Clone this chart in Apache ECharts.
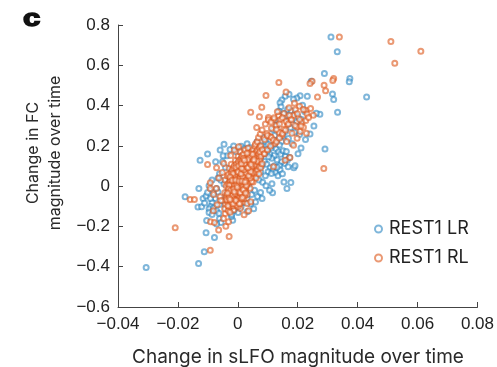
<!DOCTYPE html>
<html>
<head>
<meta charset="utf-8">
<script src="https://cdn.jsdelivr.net/npm/echarts@6/dist/echarts.min.js"></script>
<style>html,body{margin:0;padding:0;background:#fff;}#c{width:497px;height:367px;}</style>
</head>
<body>
<div id="c"></div>
<script>
var xTicks = [-0.04, -0.02, 0, 0.02, 0.04, 0.06, 0.08];
var yTicks = [-0.6, -0.4, -0.2, 0, 0.2, 0.4, 0.6, 0.8];
var seriesNames = ['REST1 LR', 'REST1 RL'];

var lrPoints = [
[0.0311,0.741],[0.0332,0.667],[0.0289,0.559],[0.0374,0.534],[0.0372,0.518],[0.0430,0.442],[0.0316,0.457],[0.0320,0.430],[0.0333,0.367],[0.0291,0.185],[0.0274,0.357],[0.0262,0.362],
[0.0245,0.521],[0.0232,0.446],[0.0208,0.449],[0.0197,0.438],[0.0216,0.402],[0.0223,0.371],[0.0186,0.432],[0.0171,0.456],[0.0158,0.446],[0.0147,0.428],[0.0141,0.414],[0.0144,0.394],[0.0166,0.381],[0.0179,0.374],[0.0191,0.362],[0.0201,0.344],[0.0213,0.331],[0.0196,0.318],[0.0183,0.309],[0.0171,0.331],[0.0161,0.352],[0.0152,0.361],[0.0137,0.372],[0.0176,0.291],[0.0189,0.268],[0.0206,0.256],[0.0159,0.271],[0.0151,0.249],[0.0169,0.236],[0.0181,0.211],[0.0146,0.222],[0.0131,0.302],[0.0124,0.329],[0.0117,0.281],[0.0123,0.252],
[0.0086,0.241],[0.0093,0.222],[0.0101,0.208],[0.0111,0.191],[0.0119,0.203],[0.0128,0.186],[0.0136,0.171],[0.0143,0.158],[0.0151,0.176],[0.0159,0.149],[0.0166,0.131],[0.0173,0.142],[0.0156,0.112],[0.0146,0.121],[0.0139,0.101],[0.0131,0.131],[0.0121,0.152],[0.0113,0.139],[0.0106,0.161],[0.0098,0.172],[0.0091,0.181],[0.0083,0.158],[0.0076,0.141],[0.0069,0.121],[0.0081,0.101],[0.0089,0.122],[0.0097,0.109],[0.0108,0.091],[0.0117,0.079],[0.0126,0.068],[0.0134,0.051],[0.0154,0.021],[0.0164,-0.012],[0.0177,0.018],[0.0116,-0.033],[0.0141,0.082],[0.0149,0.061],[0.0122,0.101],[0.0101,0.071],[0.0092,0.052],[0.0076,0.071],[0.0066,0.089],[0.0061,0.052],[0.0071,0.031],[0.0083,0.019],[0.0094,0.002],[0.0106,-0.021],[0.0114,0.012],[0.0103,0.146],[0.0112,0.063],[0.0131,0.094],[0.0168,0.096],[0.0187,0.091],[0.0162,0.172],[0.0139,0.204],[0.0127,0.226],
[-0.0101,0.159],[-0.0059,0.179],[-0.0046,0.208],[-0.0036,0.151],[-0.0026,0.182],[-0.0014,0.199],[-0.0006,0.171],[0.0011,0.198],[0.0021,0.186],[0.0031,0.211],[0.0041,0.191],[0.0052,0.168],[-0.0051,0.121],[-0.0041,0.092],[-0.0061,0.061],[-0.0066,0.041],[-0.0056,0.029],[-0.0046,0.011],[-0.0071,-0.012],[-0.0081,-0.031],[-0.0076,-0.061],[-0.0086,-0.081],[-0.0091,-0.101],[-0.0096,-0.112],[-0.0081,-0.108],[-0.0071,-0.122],[-0.0061,-0.091],[-0.0051,-0.071],[-0.0041,-0.052],[-0.0031,-0.082],[-0.0021,-0.101],[-0.0011,-0.121],[0.0001,-0.131],[0.0011,-0.102],[0.0021,-0.081],[0.0031,-0.061],[0.0031,-0.127],[0.0046,-0.041],[0.0056,-0.021],[0.0066,-0.051],[0.0076,-0.031],[-0.0017,-0.169],[-0.0021,-0.151],[-0.0061,-0.161],[-0.0056,-0.181],[-0.0071,-0.188],[-0.0106,-0.231],[-0.0078,-0.255],[-0.0112,-0.326],[-0.0131,-0.384],[-0.0306,-0.404],[-0.0176,-0.053],[-0.0130,-0.012],[-0.0133,-0.103],[-0.0121,-0.102],[-0.0116,-0.061],[-0.0106,-0.049],[-0.0101,-0.031],[-0.0096,0.002],[-0.0091,-0.061],[-0.0126,0.128],[-0.0096,-0.131],[-0.0104,-0.171],[-0.0086,-0.141],[-0.0111,-0.084],[-0.0026,-0.011],[-0.0016,0.021],[-0.0004,0.049],[0.0006,0.081],[0.0016,0.109],[0.0026,0.131],[0.0036,0.119],[-0.0031,0.041],[-0.0021,0.071],[-0.0009,0.101],[0.0001,0.129],[0.0012,0.152],[0.0021,0.002],[0.0032,0.031],[0.0041,0.059],[0.0051,0.091],[0.0061,0.149],[-0.0036,-0.029],[0.0016,-0.041],[0.0026,-0.019],[0.0059,-0.079],[0.0081,-0.061],[0.0046,0.111],[0.0036,0.081],[-0.0011,-0.049],[0.0001,-0.021],[0.0013,0.041],[0.0023,0.061],[-0.0041,-0.109],[0.0043,-0.089],[0.0191,0.101],[0.0201,0.161],[0.0211,0.189],[0.0226,0.231],[0.0241,0.259],[0.0254,0.298],[-0.0066,-0.029],[-0.0049,0.151],[-0.0086,0.031],[-0.0074,0.121],[0.0071,0.182],[0.0079,0.201],[0.0064,0.221],[-0.0021,-0.141],[0.0053,-0.112],[0.0007,-0.072],[-0.0063,-0.134],[0.0008,0.011],[0.0037,0.006],[-0.0012,0.071]
];

var rlPoints = [
[0.0339,0.741],[0.0511,0.718],[0.0611,0.670],[0.0524,0.610],[0.0320,0.534],[0.0317,0.524],[0.0288,0.501],[0.0293,0.473],[0.0248,0.521],[0.0241,0.509],[0.0266,0.443],[0.0287,0.088],[0.0174,0.142],[0.0137,0.514],[0.0094,0.450],[0.0043,0.367],[-0.0209,-0.207],[-0.0092,-0.318],[-0.0029,-0.250],[-0.0101,0.108],[-0.0159,-0.066],[-0.0145,-0.066],[-0.0092,0.017],[-0.0040,-0.199],[0.0080,0.392],[0.0161,0.467],
[0.0206,0.397],[0.0228,0.377],[0.0243,0.385],[0.0252,0.352],[0.0231,0.358],[0.0189,0.411],[0.0154,0.361],[0.0136,0.349],[0.0119,0.331],[0.0102,0.341],[0.0072,0.344],[0.0063,0.291],[0.0097,0.261],[0.0108,0.246],[0.0124,0.212],[0.0147,0.253],[0.0163,0.222],[0.0186,0.203],[0.0208,0.271],[0.0229,0.262],[0.0158,0.129],[0.0119,0.096],[0.0086,0.162],[0.0177,0.336],[0.0186,0.351],[0.0197,0.295],[0.0214,0.318],[0.0171,0.389],[0.0143,0.331],[0.0128,0.301],[0.0112,0.288],[0.0166,0.307],[0.0153,0.282],[0.0138,0.268],[0.0181,0.262],[0.0198,0.238],[0.0219,0.292],[0.0206,0.331],[0.0227,0.326],[0.0236,0.341],
[-0.0092,-0.012],[-0.0059,-0.053],[-0.0057,-0.071],[-0.0042,-0.136],[-0.0014,-0.119],[0.0008,-0.111],[0.0031,-0.086],[0.0043,-0.078],[0.0036,-0.122],[-0.0091,-0.177],[-0.0078,-0.181],[-0.0064,-0.218],[-0.0031,-0.177],[-0.0081,-0.041],[-0.0069,-0.092],[-0.0072,-0.012],[-0.0063,0.041],[-0.0052,0.068],[-0.0047,0.112],[-0.0071,0.091],[-0.0012,0.179],[0.0003,0.196],[-0.0024,0.152],[-0.0082,-0.122],[-0.0048,-0.161],[0.0021,-0.142],
[-0.0041,-0.091],[-0.0038,-0.058],[-0.0043,-0.031],[-0.0039,0.002],[-0.0042,0.031],[-0.0044,-0.112],[-0.0034,-0.079],[-0.0036,-0.041],[-0.0033,0.011],[-0.0035,0.051],[-0.0032,-0.121],
[-0.0029,-0.101],[-0.0031,-0.069],[-0.0028,-0.021],[-0.0027,0.022],[-0.0031,0.059],[-0.0029,0.089],[-0.0024,-0.089],[-0.0026,-0.051],[-0.0023,-0.011],[-0.0025,0.031],[-0.0022,0.069],[-0.0026,-0.129],
[-0.0019,-0.081],[-0.0021,-0.061],[-0.0018,-0.029],[-0.0021,0.002],[-0.0017,0.041],[-0.0019,0.081],[-0.0022,0.109],[-0.0014,-0.099],[-0.0016,-0.071],[-0.0013,-0.041],[-0.0015,-0.009],[-0.0012,0.019],[-0.0016,0.051],[-0.0014,0.091],
[-0.0011,-0.089],[-0.0009,-0.061],[-0.0011,-0.019],[-0.0008,0.011],[-0.0011,0.029],[-0.0009,0.061],[-0.0012,0.101],[-0.0008,0.129],[-0.0004,-0.079],[-0.0006,-0.051],[-0.0003,-0.031],[-0.0005,0.001],[-0.0004,0.021],[-0.0006,0.041],[-0.0003,0.071],[-0.0005,0.109],
[0.0001,-0.101],[-0.0001,-0.061],[0.0002,-0.041],[0.0001,-0.009],[-0.0001,0.011],[0.0002,0.031],[0.0001,0.051],[-0.0002,0.079],[0.0002,0.121],[0.0001,0.149],[0.0006,-0.071],[0.0004,-0.029],[0.0005,0.002],[0.0007,0.021],[0.0004,0.041],[0.0006,0.061],[0.0005,0.089],[0.0007,0.131],
[0.0011,-0.081],[0.0009,-0.049],[0.0012,-0.021],[0.0009,0.011],[0.0011,0.029],[0.0012,0.049],[0.0009,0.071],[0.0011,0.101],[0.0012,0.139],[0.0009,0.169],[0.0016,-0.039],[0.0014,-0.011],[0.0017,0.021],[0.0014,0.039],[0.0016,0.061],[0.0015,0.079],[0.0017,0.111],[0.0014,0.151],
[0.0021,-0.061],[0.0019,-0.029],[0.0022,0.001],[0.0019,0.029],[0.0021,0.051],[0.0022,0.069],[0.0019,0.091],[0.0021,0.121],[0.0019,0.159],[0.0026,-0.019],[0.0024,0.011],[0.0027,0.041],[0.0024,0.061],[0.0026,0.081],[0.0025,0.101],[0.0027,0.131],[0.0024,0.179],
[0.0031,-0.041],[0.0029,0.002],[0.0032,0.031],[0.0029,0.051],[0.0031,0.071],[0.0032,0.089],[0.0029,0.109],[0.0031,0.141],[0.0036,0.019],[0.0034,0.041],[0.0037,0.061],[0.0034,0.081],[0.0036,0.101],[0.0035,0.121],[0.0037,0.151],[0.0034,0.189],
[0.0041,-0.011],[0.0039,0.029],[0.0042,0.051],[0.0039,0.069],[0.0041,0.091],[0.0042,0.109],[0.0039,0.131],[0.0041,0.161],[0.0046,0.041],[0.0044,0.061],[0.0047,0.081],[0.0044,0.101],[0.0046,0.119],[0.0045,0.141],[0.0047,0.171],
[0.0051,0.021],[0.0049,0.049],[0.0052,0.071],[0.0049,0.091],[0.0051,0.109],[0.0052,0.131],[0.0049,0.151],[0.0051,0.181],[0.0056,0.061],[0.0054,0.081],[0.0057,0.101],[0.0054,0.121],[0.0056,0.139],[0.0055,0.161],[0.0057,0.199],
[0.0061,0.041],[0.0059,0.071],[0.0062,0.099],[0.0059,0.121],[0.0061,0.141],[0.0062,0.171],[0.0059,0.209],[0.0066,0.081],[0.0064,0.109],[0.0067,0.131],[0.0064,0.151],[0.0066,0.179],[0.0065,0.221],
[0.0071,0.061],[0.0069,0.099],[0.0072,0.121],[0.0069,0.141],[0.0071,0.161],[0.0072,0.189],[0.0069,0.241],[0.0076,0.091],[0.0074,0.131],[0.0077,0.149],[0.0074,0.171],[0.0076,0.199],[0.0075,0.259],
[-0.0027,-0.043],[-0.0018,-0.052],[-0.0007,-0.014],[0.0003,-0.048],[0.0013,0.006],[0.0018,0.057],[0.0008,0.093],[-0.0002,0.063],[0.0028,0.024],[0.0033,0.057],[0.0023,0.087],[0.0013,0.123],[0.0038,0.098],[0.0043,0.127],[0.0053,0.142],[0.0048,0.067],[0.0058,0.113],[0.0027,-0.004],[0.0017,-0.027],[0.0007,-0.057],[-0.0013,-0.066],[-0.0023,-0.077],[-0.0033,-0.097],[-0.0008,0.047],[-0.0018,0.014],[-0.0028,0.004],[0.0004,0.014],[0.0014,0.073],[0.0024,0.043],[0.0034,0.073],[0.0044,0.087],[0.0054,0.104],[0.0064,0.124],[0.0029,0.117],[0.0019,0.137],[0.0009,0.053],[-0.0001,0.036],[-0.0011,0.004],[-0.0021,-0.036],[-0.0031,-0.014],[0.0006,-0.016],[0.0016,-0.004],[0.0026,0.064],[0.0036,0.033],[0.0046,0.023],[0.0011,0.084],[0.0021,0.103],[-0.0004,-0.094],[0.0003,-0.084],[-0.0037,-0.067],[0.0039,0.142],[0.0049,0.158],[0.0031,0.163],[0.0018,0.093],[0.0008,0.033],[-0.0006,0.092],[-0.0016,0.063],[-0.0026,0.046],[0.0012,-0.063],[0.0022,-0.047],
[-0.0019,-0.047],[-0.0009,-0.036],[0.0001,-0.027],[0.0011,-0.038],[0.0021,-0.013],[0.0031,0.013],[0.0041,0.041],[-0.0024,-0.022],[-0.0014,-0.014],[-0.0004,0.008],[0.0006,0.038],[0.0016,0.046],[0.0026,0.028],[0.0036,0.052],[0.0046,0.098],[-0.0029,-0.058],[-0.0009,0.026],[0.0001,0.071],[0.0011,0.061],[0.0021,0.081],[0.0031,0.096],[0.0041,0.117],[0.0051,0.122],[-0.0034,-0.034],[-0.0019,0.029],[-0.0007,0.031],[0.0003,0.101],[0.0013,0.089],[0.0023,0.111],[0.0033,0.131],[0.0043,0.073],[0.0008,-0.032],[0.0018,-0.018],[0.0028,0.003],[-0.0012,-0.028],[-0.0002,-0.006],[0.0004,0.026],[0.0014,0.026],[0.0024,0.021],[0.0034,0.091],[0.0044,0.108],[0.0054,0.131],[-0.0016,-0.087],[-0.0006,-0.071],[0.0006,-0.087],[0.0016,-0.057],[0.0026,-0.034],[-0.0026,-0.066],[0.0012,0.111],[0.0022,0.129],
[0.0081,0.111],[0.0082,0.181],[0.0081,0.279],[0.0089,0.161],[0.0089,0.231],[0.0092,0.309],[0.0099,0.181],[0.0099,0.251],[0.0102,0.329],[0.0109,0.199],[0.0112,0.241],[0.0111,0.319],[0.0119,0.229],[0.0121,0.339],[0.0129,0.221],[0.0129,0.281],[0.0132,0.369],[0.0139,0.239],[0.0139,0.309],[0.0149,0.261],[0.0149,0.339],[0.0159,0.279],[0.0162,0.321],[0.0169,0.309],[0.0172,0.351],[0.0179,0.329],[0.0191,0.301],[0.0192,0.379],[0.0199,0.359],[0.0211,0.299],[0.0219,0.381]
];

function fmtX(v){ var r=Math.round(v*100)/100; if(Math.abs(r)<1e-9) return '0'; return (r<0?'\u2212':'')+Math.abs(r).toFixed(2); }
function fmtY(v){ var r=Math.round(v*10)/10; if(Math.abs(r)<1e-9) return '0'; return (r<0?'\u2212':'')+Math.abs(r).toFixed(1); }

var chart = echarts.init(document.getElementById('c'), null, {renderer:'canvas'});
var axisCommon = {
  type:'value',
  axisLine:{show:true, onZero:false, lineStyle:{color:'#444', width:1}},
  axisTick:{show:true, inside:true, length:5, lineStyle:{color:'#444'}},
  splitLine:{show:false},
  axisLabel:{color:'#222', fontFamily:'Liberation Sans', fontSize:17}
};
chart.setOption({
  animation:false,
  backgroundColor:'#fff',
  grid:{left:118, right:19, top:25, bottom:60, containLabel:false},
  xAxis: Object.assign({}, axisCommon, {
    min:xTicks[0], max:xTicks[xTicks.length-1], interval:0.02,
    axisLabel:Object.assign({}, axisCommon.axisLabel, {margin:9, formatter:fmtX})
  }),
  yAxis: Object.assign({}, axisCommon, {
    min:yTicks[0], max:yTicks[yTicks.length-1], interval:0.2,
    axisLabel:Object.assign({}, axisCommon.axisLabel, {margin:8, formatter:fmtY})
  }),
  legend:{
    orient:'vertical', left:374, top:220, padding:0, itemWidth:7, itemHeight:7, itemGap:11,
    icon:'emptyCircle',
    textStyle:{fontFamily:'Inter', fontSize:18, color:'#222', lineHeight:18, padding:[0,0,0,2]},
    data:seriesNames
  },
  graphic:[
    {type:'text', x:23, y:8, scaleX:1.35, style:{text:'c', font:'bold 23px "Liberation Sans"', fill:'#111', stroke:'#111', lineWidth:1.4}},
    {type:'text', x:44, y:153, rotation:Math.PI/2, style:{text:'Change in FC\nmagnitude over time', font:'16px Inter', fill:'#2a2a2a', textAlign:'center', textVerticalAlign:'middle', lineHeight:22}},
    {type:'text', x:298, y:357, style:{text:'Change in sLFO magnitude over time', font:'19px Inter', fill:'#2a2a2a', textAlign:'center', textVerticalAlign:'middle'}}
  ],
  series:[
    {name:seriesNames[0], type:'scatter', symbol:'emptyCircle', symbolSize:5, data:lrPoints,
     itemStyle:{color:'#2a86c2', borderColor:'#2a86c2', borderWidth:1, opacity:0.6}},
    {name:seriesNames[1], type:'scatter', symbol:'emptyCircle', symbolSize:5, data:rlPoints,
     itemStyle:{color:'#dd5a1e', borderColor:'#dd5a1e', borderWidth:1, opacity:0.62}}
  ]
});
</script>
</body>
</html>
